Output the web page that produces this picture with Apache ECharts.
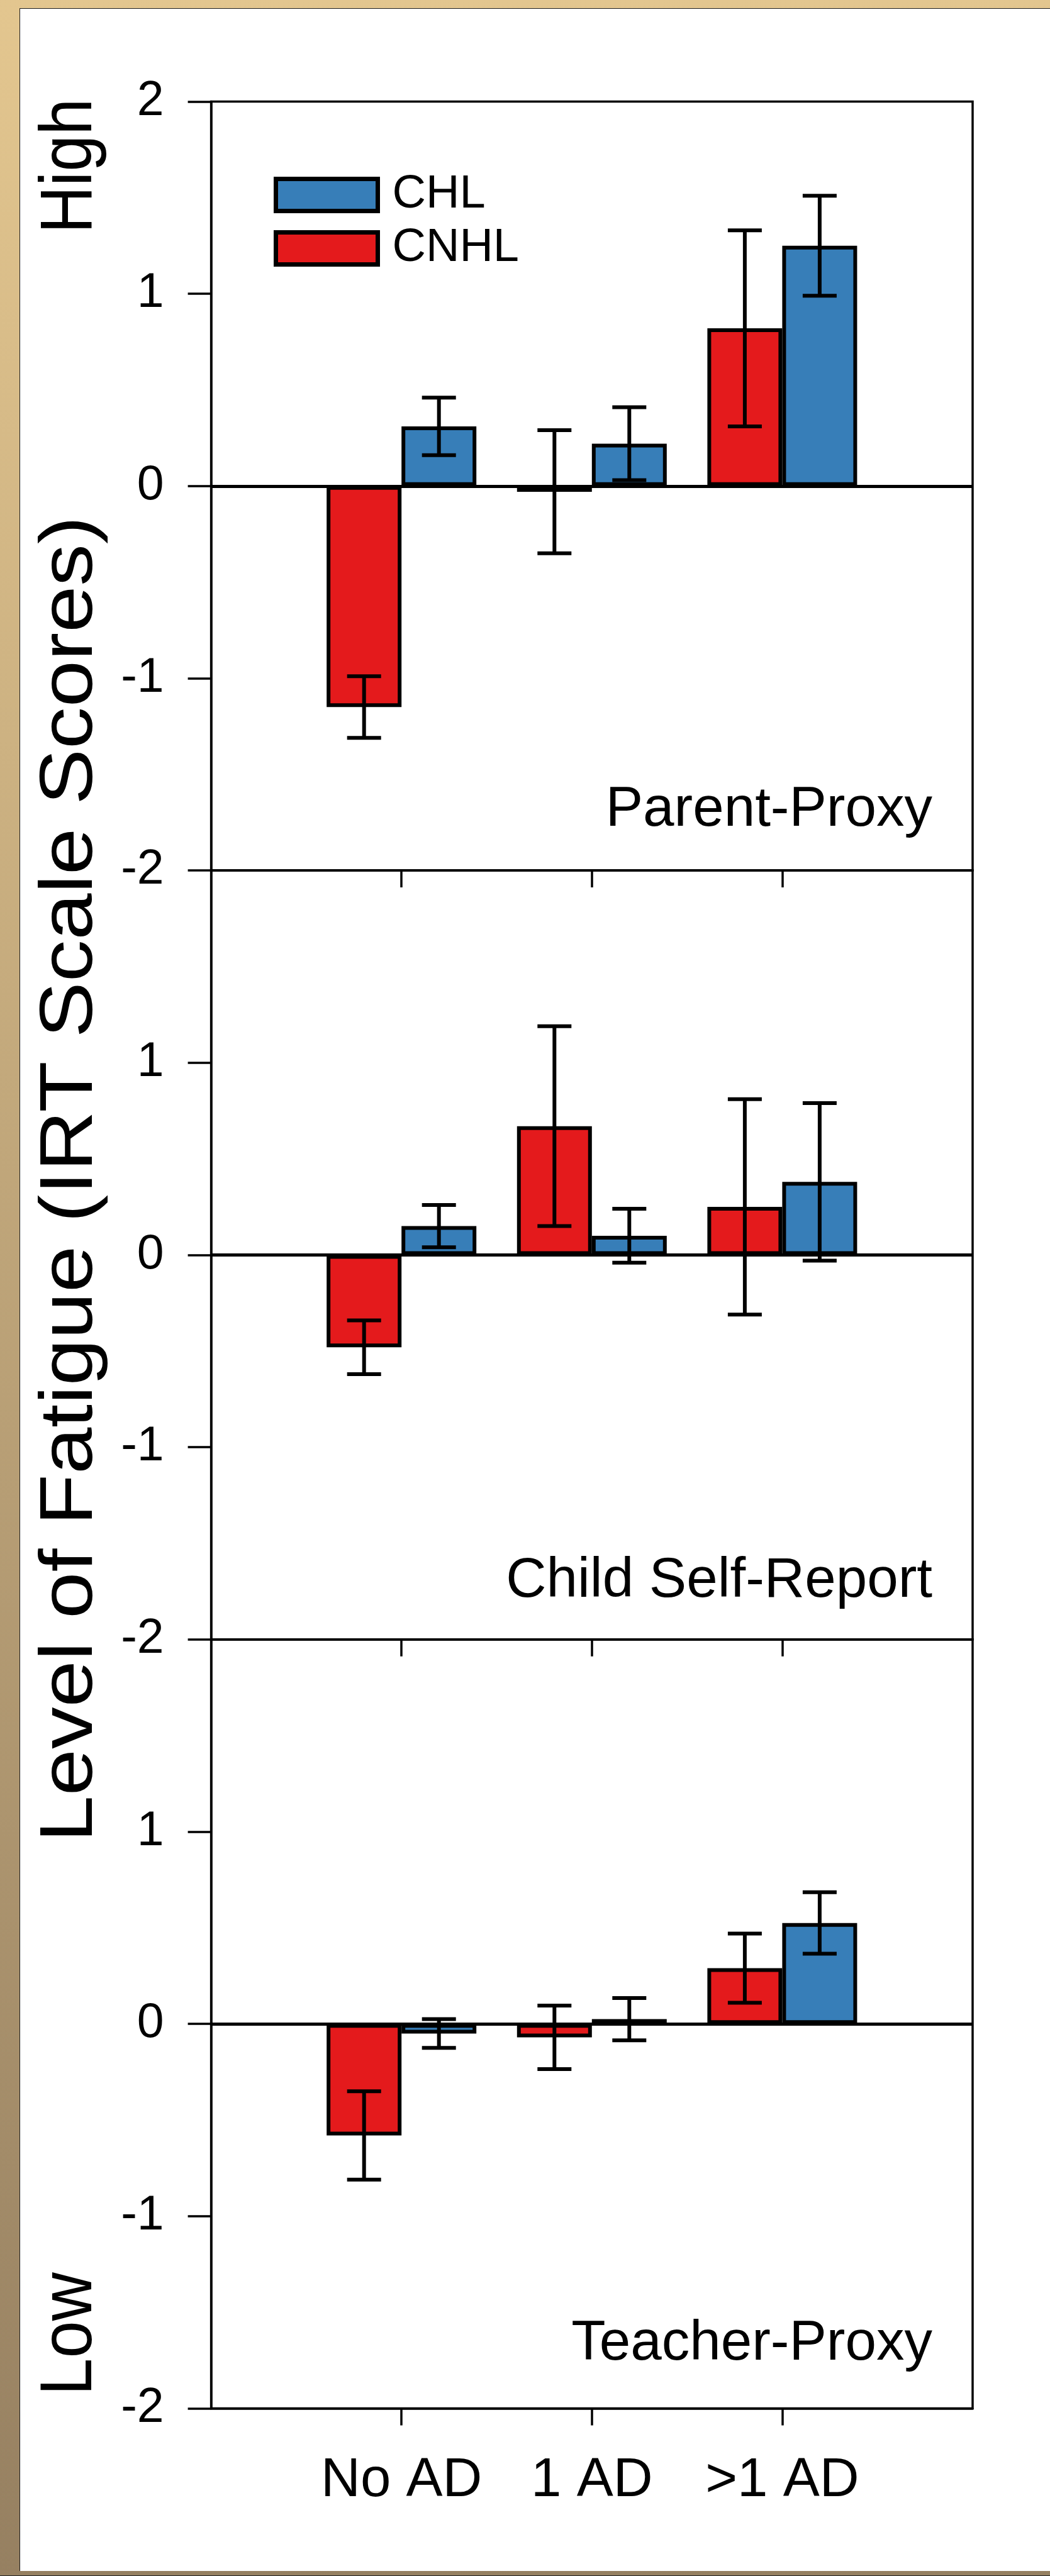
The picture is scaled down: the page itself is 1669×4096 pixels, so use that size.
<!DOCTYPE html>
<html>
<head>
<meta charset="utf-8">
<script src="https://cdn.jsdelivr.net/npm/echarts@6/dist/echarts.min.js"></script>
<style>
html,body{margin:0;padding:0;}
#wrap{position:relative;width:1669px;height:4096px;overflow:hidden;background:linear-gradient(to bottom,#E3C68F 0%,#968061 100%);}
#paper{position:absolute;left:31px;top:13px;width:1650px;height:4074px;background:#fff;border-left:1.3px solid #1e1e1e;border-top:1.3px solid #1e1e1e;}
#edge{position:absolute;left:0;bottom:0;width:1669px;height:1.5px;background:#222;}
#c{position:absolute;left:0;top:0;width:1669px;height:4096px;}
</style>
</head>
<body>
<div id="wrap"><div id="paper"></div><div id="edge"></div><div id="c"></div></div>
<script>
// ---- data ----
const categories = ['', 'No AD', '1 AD', '>1 AD', ''];
const panelNames = ['Parent-Proxy', 'Child Self-Report', 'Teacher-Proxy'];
const yMin = -2, yMax = 2, yStep = 1;

const parentCNHL    = [-1.15, -0.03, 0.82];
const parentCNHLErr = [0.16, 0.32, 0.51];
const parentCHL     = [0.31, 0.22, 1.25];
const parentCHLErr  = [0.15, 0.19, 0.26];

const childCNHL     = [-0.48, 0.67, 0.25];
const childCNHLErr  = [0.14, 0.52, 0.56];
const childCHL      = [0.15, 0.10, 0.38];
const childCHLErr   = [0.11, 0.14, 0.41];

const teacherCNHL    = [-0.58, -0.07, 0.29];
const teacherCNHLErr = [0.23, 0.165, 0.18];
const teacherCHL     = [-0.05, 0.025, 0.525];
const teacherCHLErr  = [0.075, 0.11, 0.16];

const yTitle = 'Level of Fatigue (IRT Scale Scores)';
const highLabel = 'High', lowLabel = 'Low';

// ---- styling ----
const FONT = '"Liberation Sans", Arial, Helvetica, sans-serif';
const RED = '#E41A1C', BLUE = '#377EB8';
const BAR_W = 119, BAR_BORDER = 6, ERR_LW = 6, CAP = 54;
const GRID_LEFT = 335.6, GRID_W = 1210.4, GRID_TOP = 161.4, GRID_H = 1222.7;
const AXIS_LW = 3.5;

const panels = [
  {cnhl: parentCNHL, cnhlErr: parentCNHLErr, chl: parentCHL, chlErr: parentCHLErr},
  {cnhl: childCNHL, cnhlErr: childCNHLErr, chl: childCHL, chlErr: childCHLErr},
  {cnhl: teacherCNHL, cnhlErr: teacherCNHLErr, chl: teacherCHL, chlErr: teacherCHLErr}
];

function errRender(offset) {
  return function (params, api) {
    const idx = api.value(0), m = api.value(1), e = api.value(2);
    const t = api.coord([idx, m + e]);
    const b = api.coord([idx, m - e]);
    const x = t[0] + offset, hw = CAP / 2;
    const st = {stroke: '#000', lineWidth: ERR_LW, fill: null};
    return {type: 'group', children: [
      {type: 'line', shape: {x1: x, y1: t[1], x2: x, y2: b[1]}, style: st},
      {type: 'line', shape: {x1: x - hw, y1: t[1], x2: x + hw, y2: t[1]}, style: st},
      {type: 'line', shape: {x1: x - hw, y1: b[1], x2: x + hw, y2: b[1]}, style: st}
    ]};
  };
}

const grids = [], xAxes = [], yAxes = [], series = [];
panels.forEach((p, k) => {
  const last = k === panels.length - 1;
  grids.push({left: GRID_LEFT, top: GRID_TOP + k * GRID_H, width: GRID_W, height: GRID_H,
    show: true, borderColor: '#000', borderWidth: AXIS_LW, backgroundColor: 'transparent',
    containLabel: false, outerBoundsMode: 'none'});
  xAxes.push({type: 'category', gridIndex: k, data: categories, boundaryGap: false, position: 'bottom',
    axisLine: {show: true, onZero: false, lineStyle: {color: '#000', width: AXIS_LW}},
    axisTick: {show: true, length: 27, inside: false, interval: (i) => i >= 1 && i <= 3,
      lineStyle: {color: '#000', width: AXIS_LW}},
    axisLabel: {show: last, interval: 0, margin: 72, fontSize: 87, fontFamily: FONT, color: '#000'},
    splitLine: {show: false}});
  yAxes.push({type: 'value', gridIndex: k, min: yMin, max: yMax, interval: yStep,
    axisLine: {show: true, onZero: false, lineStyle: {color: '#000', width: AXIS_LW}},
    axisTick: {show: true, length: 37, inside: false, lineStyle: {color: '#000', width: AXIS_LW}},
    axisLabel: {show: true, margin: 75, fontSize: 77, fontFamily: FONT, color: '#000',
      showMaxLabel: k === 0, showMinLabel: true},
    splitLine: {show: false}});
  series.push({type: 'bar', name: 'CNHL', xAxisIndex: k, yAxisIndex: k,
    data: p.cnhl.map((v, i) => [i + 1, v]), barWidth: BAR_W, barGap: '0%',
    itemStyle: {color: RED, borderColor: '#000', borderWidth: BAR_BORDER},
    markLine: {silent: true, symbol: 'none', label: {show: false},
      lineStyle: {color: '#000', width: 5, type: 'solid'}, data: [{yAxis: 0}]}, z: 2});
  series.push({type: 'bar', name: 'CHL', xAxisIndex: k, yAxisIndex: k,
    data: p.chl.map((v, i) => [i + 1, v]), barWidth: BAR_W, barGap: '0%',
    itemStyle: {color: BLUE, borderColor: '#000', borderWidth: BAR_BORDER}, z: 2});
  series.push({type: 'custom', xAxisIndex: k, yAxisIndex: k, z: 5,
    data: p.cnhl.map((v, i) => [i + 1, v, p.cnhlErr[i]]), encode: {x: 0, y: 1},
    renderItem: errRender(-BAR_W / 2)});
  series.push({type: 'custom', xAxisIndex: k, yAxisIndex: k, z: 5,
    data: p.chl.map((v, i) => [i + 1, v, p.chlErr[i]]), encode: {x: 0, y: 1},
    renderItem: errRender(BAR_W / 2)});
});

const panelLabelY = [1288.5, 2514, 3727];
const graphics = panelNames.map((n, k) => ({type: 'text', x: 1482, y: panelLabelY[k], z: 10,
  style: {text: n, fontSize: 89, fontFamily: FONT, fill: '#000', align: 'right', verticalAlign: 'middle',
    textAlign: 'right', textVerticalAlign: 'middle'}}));
function rot(text, y, sx, fs) {
  return {type: 'text', x: 113, y: y, rotation: Math.PI / 2, scaleX: sx, scaleY: 1, z: 10,
    style: {text: text, fontSize: fs, fontFamily: FONT, fill: '#000', align: 'center', verticalAlign: 'middle',
      textAlign: 'center', textVerticalAlign: 'middle'}};
}
graphics.push(rot(highLabel, 264, 0.9, 116));
graphics.push(rot(lowLabel, 3711, 0.92, 116));
graphics.push(rot(yTitle, 1875, 1.12, 119));

const chart = echarts.init(document.getElementById('c'), null, {renderer: 'canvas'});
chart.setOption({
  backgroundColor: 'transparent',
  animation: false,
  grid: grids, xAxis: xAxes, yAxis: yAxes, series: series,
  legend: {data: ['CHL', 'CNHL'], orient: 'vertical', left: 430, top: 268, icon: 'rect',
    itemWidth: 162, itemHeight: 51, itemGap: 11, selectedMode: false,
    itemStyle: {borderColor: '#000', borderWidth: 7},
    textStyle: {fontSize: 74, fontFamily: FONT, color: '#000', padding: [0, 0, 0, 18], lineHeight: 51}},
  graphic: graphics
});
</script>
</body>
</html>
